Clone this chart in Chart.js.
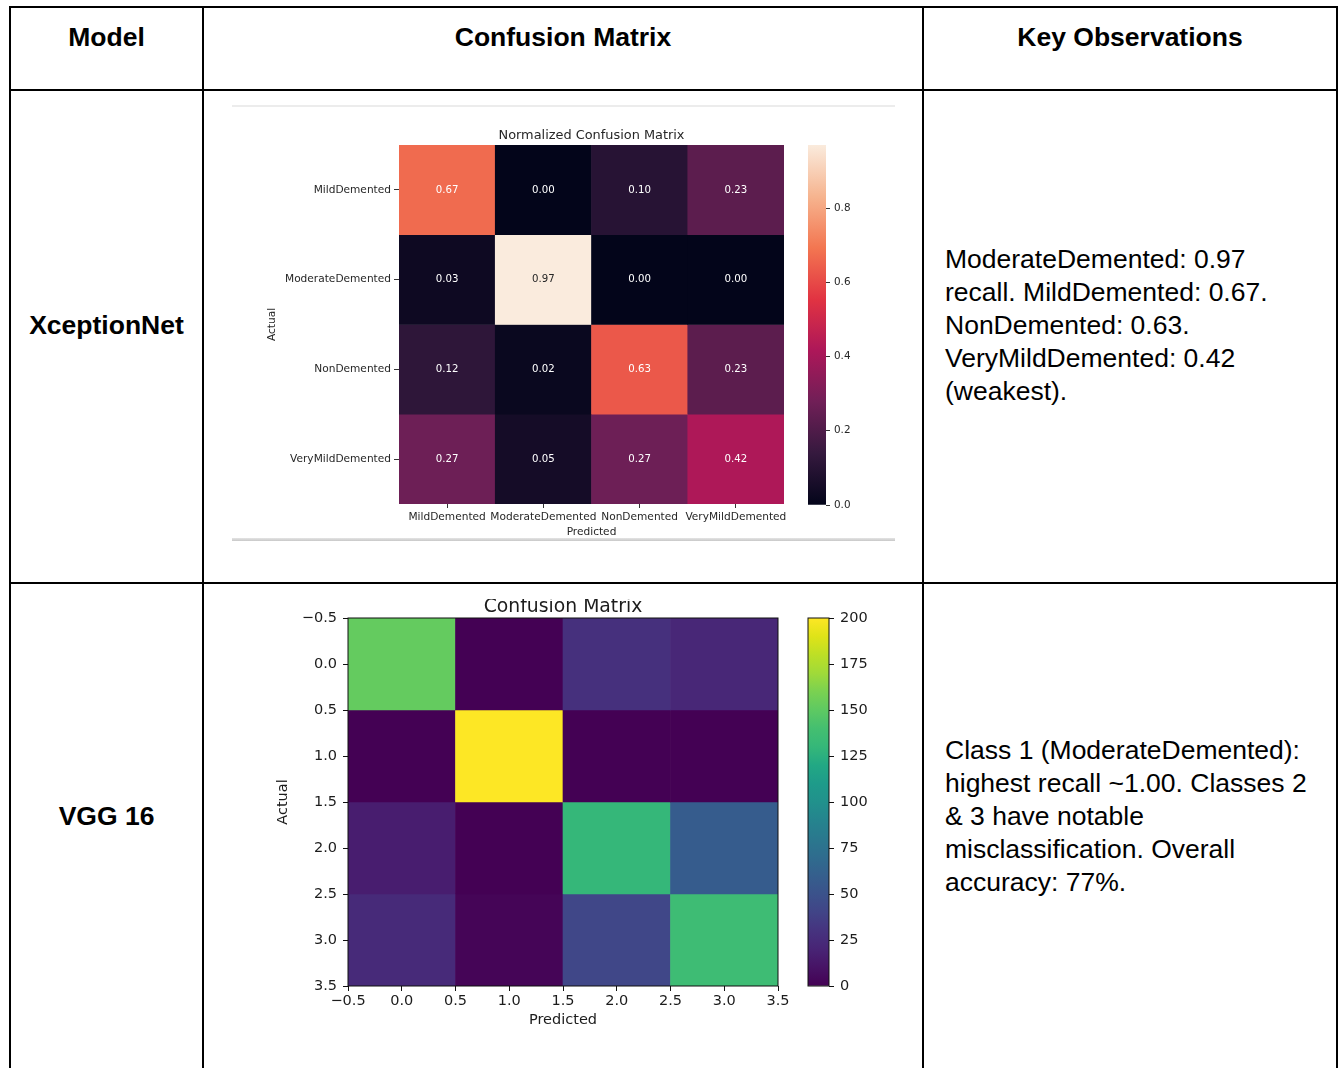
<!DOCTYPE html>
<html>
<head>
<meta charset="utf-8">
<title>Confusion matrices by model</title>
<script src="https://cdn.jsdelivr.net/npm/chart.js@4.4.1/dist/chart.umd.min.js"></script>
<style>
  html, body { margin: 0; padding: 0; background: #fff; }
  body { width: 1338px; height: 1068px; position: relative; overflow: hidden;
         font-family: "Liberation Sans", Arial, sans-serif; color: #000; }
  .ln { position: absolute; background: #000; }
  .hd { position: absolute; font-weight: bold; font-size: 26.5px; line-height: 30px;
        text-align: center; white-space: nowrap; }
  .obs { position: absolute; left: 945px; font-size: 26.5px; line-height: 33px; white-space: nowrap; }
  .cv { position: absolute; }
  .soft { filter: blur(0.35px); }
  .soft2 { filter: blur(0.25px); }
  .clip { position: absolute; overflow: hidden; }
</style>
</head>
<body>

<!-- table grid -->
<div class="ln" style="left:9px;top:6px;width:1329px;height:2px"></div>
<div class="ln" style="left:9px;top:89px;width:1329px;height:2px"></div>
<div class="ln" style="left:9px;top:582px;width:1329px;height:2px"></div>
<div class="ln" style="left:9px;top:6px;width:2px;height:1062px"></div>
<div class="ln" style="left:202px;top:6px;width:2px;height:1062px"></div>
<div class="ln" style="left:922px;top:6px;width:2px;height:1062px"></div>
<div class="ln" style="left:1336px;top:6px;width:2px;height:1062px"></div>

<!-- header row -->
<div class="hd" style="left:11px;width:191px;top:22px">Model</div>
<div class="hd" style="left:204px;width:718px;top:22px">Confusion Matrix</div>
<div class="hd" style="left:924px;width:412px;top:22px">Key Observations</div>

<!-- model names -->
<div class="hd" style="left:11px;width:191px;top:310px">XceptionNet</div>
<div class="hd" style="left:11px;width:191px;top:801px">VGG 16</div>

<!-- observations -->
<div class="obs" style="top:242.5px">ModerateDemented: 0.97<br>recall. MildDemented: 0.67.<br>NonDemented: 0.63.<br>VeryMildDemented: 0.42<br>(weakest).</div>
<div class="obs" style="top:733.5px">Class 1 (ModerateDemented):<br>highest recall ~1.00. Classes 2<br>&amp; 3 have notable<br>misclassification. Overall<br>accuracy: 77%.</div>

<!-- frame around the XceptionNet figure -->
<div style="position:absolute;left:232px;top:105px;width:663px;height:2px;background:#ececec"></div>
<div style="position:absolute;left:232px;top:538px;width:663px;height:3px;background:linear-gradient(#e4e4e4,#c8c8c8)"></div>

<canvas id="xcHeat" class="cv soft" width="545" height="430" style="left:250px;top:120px"></canvas>
<canvas id="xcBar" class="cv soft" width="80" height="430" style="left:800px;top:120px"></canvas>

<div class="clip" style="left:260px;top:599px;width:540px;height:445px">
  <canvas id="vggHeat" class="cv soft2" width="530" height="450" style="left:0;top:-9px"></canvas>
</div>
<canvas id="vggBar" class="cv soft2" width="90" height="400" style="left:800px;top:605px"></canvas>

<script>
// ---- data ----
const classNames = ['MildDemented', 'ModerateDemented', 'NonDemented', 'VeryMildDemented'];

// XceptionNet, normalized confusion matrix (rows = actual class)
const xceptionMild      = [0.67, 0.00, 0.10, 0.23];
const xceptionModerate  = [0.03, 0.97, 0.00, 0.00];
const xceptionNon       = [0.12, 0.02, 0.63, 0.23];
const xceptionVeryMild  = [0.27, 0.05, 0.27, 0.42];
const xceptionBarTicks  = [0.0, 0.2, 0.4, 0.6, 0.8];

// VGG 16, raw counts (rows = actual class index)
const vggClass0 = [152, 0, 28, 22];
const vggClass1 = [0, 200, 0, 0];
const vggClass2 = [16, 0, 130, 58];
const vggClass3 = [24, 2, 42, 136];
const vggClassIndex = ['0', '1', '2', '3'];
const vggAxisTicks  = [-0.5, 0.0, 0.5, 1.0, 1.5, 2.0, 2.5, 3.0, 3.5];
const vggBarTicks   = [0, 25, 50, 75, 100, 125, 150, 175, 200];

const xceptionRows = [xceptionMild, xceptionModerate, xceptionNon, xceptionVeryMild];
const vggRows = [vggClass0, vggClass1, vggClass2, vggClass3];

// ---- colour maps ----
const ROCKET = [[0, '#03051a'], [0.143, '#35193e'], [0.286, '#701f57'], [0.429, '#ad1759'],
                [0.571, '#e13342'], [0.714, '#f37651'], [0.857, '#f6b48f'], [1, '#faebdd']];
const VIRIDIS = [[0, '#440154'], [0.05, '#471365'], [0.1, '#482475'], [0.15, '#46337f'], [0.2, '#414487'],
                 [0.25, '#3b528b'], [0.3, '#355f8d'], [0.35, '#2f6c8e'], [0.4, '#2a788e'], [0.45, '#25848e'],
                 [0.5, '#21918c'], [0.55, '#1e9b8a'], [0.6, '#22a884'], [0.65, '#35b779'], [0.7, '#44bf70'],
                 [0.75, '#5ec962'], [0.8, '#7ad151'], [0.85, '#a0da39'], [0.9, '#bddf26'], [0.95, '#dfe318'],
                 [1, '#fde725']];

const hexRgb = h => [1, 3, 5].map(i => parseInt(h.slice(i, i + 2), 16));
function sampleMap(map, t) {
  t = Math.max(0, Math.min(1, t));
  for (let i = 1; i < map.length; i++) {
    if (t <= map[i][0]) {
      const [t0, c0] = map[i - 1], [t1, c1] = map[i];
      const f = (t - t0) / (t1 - t0);
      const a = hexRgb(c0), b = hexRgb(c1);
      return 'rgb(' + a.map((v, k) => Math.round(v + (b[k] - v) * f)).join(',') + ')';
    }
  }
  return map[map.length - 1][1];
}
function luminance(rgbStr) {
  const [r, g, b] = rgbStr.match(/\d+/g).map(Number).map(v => {
    v /= 255; return v <= 0.03928 ? v / 12.92 : Math.pow((v + 0.055) / 1.055, 2.4);
  });
  return 0.2126 * r + 0.7152 * g + 0.0722 * b;
}

// ---- helpers ----
const fitX = h => s => { s.height = h; s.paddingLeft = 0; s.paddingRight = 0; };
const fitY = w => s => { s.width = w; s.paddingTop = 0; s.paddingBottom = 0; };
const useTicks = vals => s => { s.ticks = vals.map(v => ({ value: v })); };
const mplNum = (v, d) => v.toFixed(d).replace('-', '\u2212');

// title centred over the plot area
const plotTitle = {
  id: 'plotTitle',
  afterDraw(chart, args, o) {
    if (!o.text) return;
    const { ctx, chartArea: a } = chart;
    ctx.save();
    ctx.font = o.font; ctx.fillStyle = o.color;
    ctx.textAlign = 'center'; ctx.textBaseline = 'alphabetic';
    ctx.fillText(o.text, (a.left + a.right) / 2, a.top - o.gap);
    ctx.restore();
  }
};
// outline round the plot area
const frame = {
  id: 'frame',
  afterDatasetsDraw(chart, args, o) {
    if (!o.color) return;
    const { ctx, chartArea: a } = chart;
    ctx.save();
    ctx.strokeStyle = o.color; ctx.lineWidth = o.width;
    ctx.strokeRect(a.left, a.top, a.right - a.left, a.bottom - a.top);
    ctx.restore();
  }
};
// value annotations inside heatmap cells
const cellValues = {
  id: 'cellValues',
  afterDatasetsDraw(chart, args, o) {
    if (!o.rows) return;
    const { ctx } = chart;
    ctx.save();
    ctx.font = o.font; ctx.textAlign = 'center'; ctx.textBaseline = 'middle';
    chart.data.datasets.forEach((ds, r) => {
      chart.getDatasetMeta(r).data.forEach((bar, c) => {
        const col = ds.backgroundColor[c];
        ctx.fillStyle = luminance(col) > 0.408 ? '#262626' : '#ffffff';
        ctx.fillText(o.rows[r][c].toFixed(2), bar.x, (bar.y + bar.base) / 2);
      });
    });
    ctx.restore();
  }
};

// one floating-bar dataset per matrix row, spanning row index ± 0.5
function heatDatasets(rows, map, vmax, xAxisID) {
  return rows.map((row, r) => ({
    data: row.map(() => [r - 0.5, r + 0.5]),
    backgroundColor: row.map(v => sampleMap(map, v / vmax)),
    borderWidth: 0,
    grouped: false,
    categoryPercentage: 1,
    barPercentage: 1,
    xAxisID: xAxisID,
    yAxisID: 'y'
  }));
}

// vertical colour bar drawn as a single gradient-filled bar
function colorBar(id, map, vmax, ticks, opts) {
  return new Chart(document.getElementById(id), {
    type: 'bar',
    data: {
      labels: [''],
      datasets: [{
        data: [[0, vmax]],
        borderWidth: 0,
        categoryPercentage: 1,
        barPercentage: 1,
        backgroundColor: c => {
          const ch = c.chart, ys = ch.scales.y;
          if (!ch.chartArea || !ys) return map[0][1];
          const g = ch.ctx.createLinearGradient(0, ys.getPixelForValue(0), 0, ys.getPixelForValue(vmax));
          map.forEach(([t, col]) => g.addColorStop(t, col));
          return g;
        }
      }]
    },
    options: {
      responsive: false, animation: false, events: [],
      layout: { padding: opts.padding },
      plugins: { legend: { display: false }, tooltip: { enabled: false },
                 frame: opts.frame || {} },
      scales: {
        x: { type: 'category', display: false, offset: true },
        y: {
          type: 'linear', position: 'right', min: 0, max: vmax,
          afterBuildTicks: useTicks(ticks),
          afterFit: fitY(opts.axisWidth),
          border: { display: false },
          grid: { drawOnChartArea: false, drawTicks: true, tickLength: opts.tickLength,
                  tickColor: opts.tickColor, tickWidth: 1 },
          ticks: { padding: opts.tickPad, color: opts.textColor, font: opts.font,
                   callback: opts.fmt }
        }
      }
    },
    plugins: [frame]
  });
}

Chart.defaults.font.family = '"DejaVu Sans", Verdana, sans-serif';

// ---- XceptionNet heatmap ----
const xcMax = Math.max(...xceptionRows.flat());
const xcFont = { size: 10.6, family: '"DejaVu Sans"' };
const xcText = '#262626';

new Chart(document.getElementById('xcHeat'), {
  type: 'bar',
  data: { labels: classNames, datasets: heatDatasets(xceptionRows, ROCKET, xcMax, 'x') },
  options: {
    responsive: false, animation: false, events: [],
    layout: { padding: { top: 25, right: 11, bottom: 11, left: 0 } },
    plugins: {
      legend: { display: false }, tooltip: { enabled: false },
      plotTitle: { text: 'Normalized Confusion Matrix', font: '12.9px "DejaVu Sans"', color: xcText, gap: 6.3 },
      cellValues: { rows: xceptionRows, font: '10.2px "DejaVu Sans"' }
    },
    scales: {
      x: {
        type: 'category', offset: true,
        afterFit: fitX(35),
        border: { display: false },
        grid: { offset: false, drawOnChartArea: false, drawTicks: true, tickLength: 4,
                tickColor: '#333', tickWidth: 1 },
        ticks: { padding: 2.4, color: xcText, font: xcFont, maxRotation: 0, minRotation: 0, autoSkip: false },
        title: { display: true, text: 'Predicted', color: xcText, font: xcFont, padding: { top: 0, bottom: 0 } }
      },
      y: {
        type: 'linear', reverse: true, min: -0.5, max: 3.5,
        afterBuildTicks: useTicks(classNames.map((_, i) => i)),
        afterFit: fitY(149),
        border: { display: false },
        grid: { drawOnChartArea: false, drawTicks: true, tickLength: 5, tickColor: '#333', tickWidth: 1 },
        ticks: { padding: 3, color: xcText, font: xcFont, callback: v => classNames[v] },
        title: { display: true, text: 'Actual', color: xcText, font: xcFont, padding: { top: 15.6, bottom: 0 } }
      }
    }
  },
  plugins: [plotTitle, cellValues]
});

colorBar('xcBar', ROCKET, xcMax, xceptionBarTicks, {
  padding: { top: 25, bottom: 45, left: 8, right: 0 },
  axisWidth: 54, tickLength: 4, tickPad: 4, tickColor: '#333',
  textColor: xcText, font: { size: 10.4 }, fmt: v => v.toFixed(1)
});

// ---- VGG 16 heatmap ----
const vggMax = Math.max(...vggRows.flat());
const vggFont = { size: 14.5, family: '"DejaVu Sans"' };
const vggText = '#1c1c1c';

new Chart(document.getElementById('vggHeat'), {
  type: 'bar',
  data: { labels: vggClassIndex, datasets: heatDatasets(vggRows, VIRIDIS, vggMax, 'xc') },
  options: {
    responsive: false, animation: false, events: [],
    layout: { padding: { top: 28, right: 12, bottom: 11, left: 0 } },
    plugins: {
      legend: { display: false }, tooltip: { enabled: false },
      plotTitle: { text: 'Confusion Matrix', font: '18.8px "DejaVu Sans"', color: vggText, gap: 6.5 },
      frame: { color: '#111', width: 1 }
    },
    scales: {
      xc: { type: 'category', display: false, offset: true },
      x: {
        type: 'linear', position: 'bottom', min: -0.5, max: 3.5, offset: false,
        afterBuildTicks: useTicks(vggAxisTicks),
        afterFit: fitX(43),
        border: { display: false },
        grid: { offset: false, drawOnChartArea: false, drawTicks: true, tickLength: 5, tickColor: '#111', tickWidth: 1 },
        ticks: { padding: 1.3, color: vggText, font: vggFont, maxRotation: 0, autoSkip: false,
                 callback: v => mplNum(v, 1) },
        title: { display: true, text: 'Predicted', color: vggText, font: vggFont, padding: { top: 0, bottom: 0 } }
      },
      y: {
        type: 'linear', reverse: true, min: -0.5, max: 3.5,
        afterBuildTicks: useTicks(vggAxisTicks),
        afterFit: fitY(88),
        border: { display: false },
        grid: { drawOnChartArea: false, drawTicks: true, tickLength: 5, tickColor: '#111', tickWidth: 1 },
        ticks: { padding: 6, color: vggText, font: vggFont, autoSkip: false, callback: v => mplNum(v, 1) },
        title: { display: true, text: 'Actual', color: vggText, font: vggFont, padding: { top: 14.3, bottom: 0 } }
      }
    }
  },
  plugins: [plotTitle, frame]
});

colorBar('vggBar', VIRIDIS, vggMax, vggBarTicks, {
  padding: { top: 13, bottom: 19, left: 8, right: 0 },
  axisWidth: 61, tickLength: 5, tickPad: 6, tickColor: '#111',
  textColor: vggText, font: { size: 14.5 }, fmt: v => String(v),
  frame: { color: '#111', width: 1 }
});
</script>
</body>
</html>
